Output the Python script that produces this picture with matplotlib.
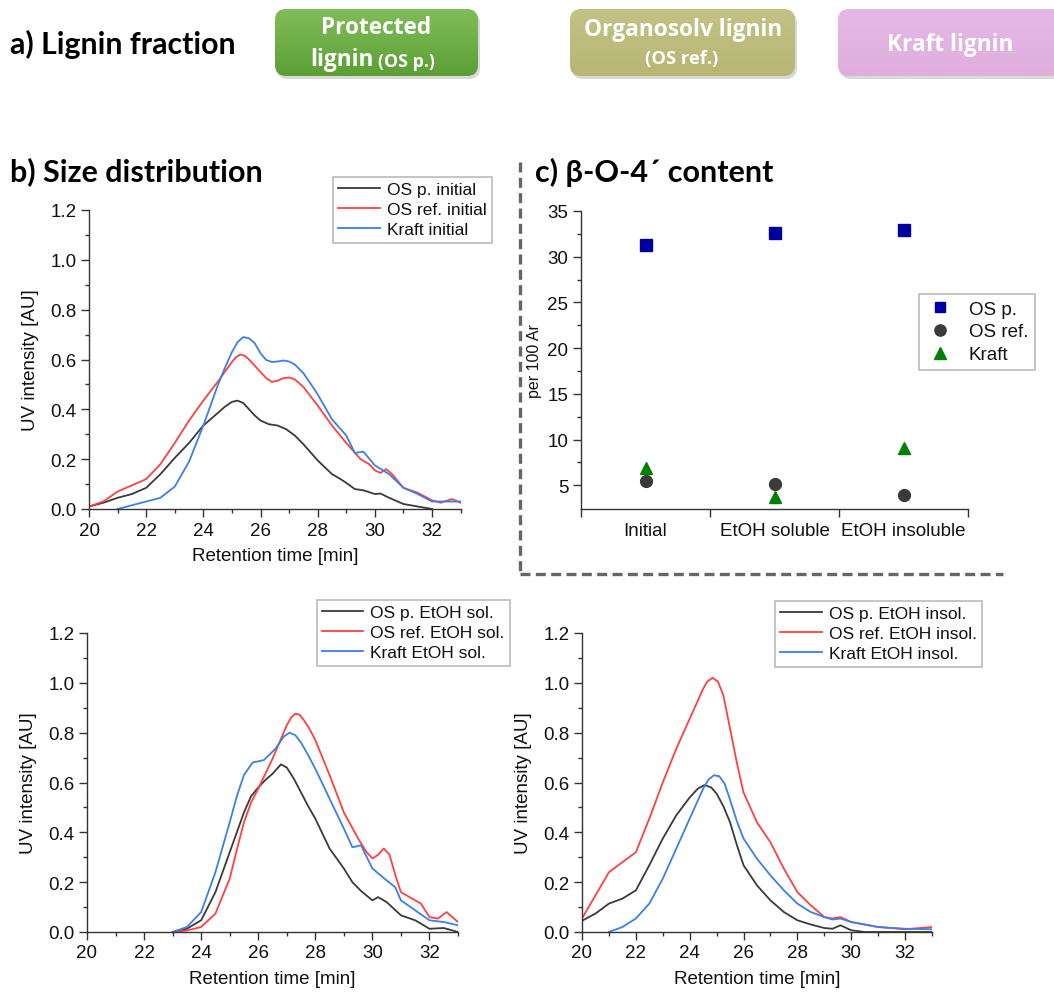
import matplotlib
matplotlib.use("Agg")
import numpy as np
import matplotlib.pyplot as plt
from matplotlib.patches import FancyBboxPatch
from matplotlib.lines import Line2D
from matplotlib.colors import LinearSegmentedColormap
from matplotlib.ticker import MultipleLocator, FixedLocator, NullFormatter, FixedFormatter, FormatStrFormatter

# ---------------- data ----------------
# b) initial fractions
t_osp_init = [20, 20.5, 21, 21.5, 22, 22.5, 23, 23.5, 24, 24.5, 24.75, 25, 25.2, 25.4, 25.6, 25.8, 26, 26.3, 26.6, 26.9, 27.2, 27.5, 28, 28.5, 28.8, 29, 29.3, 29.6, 30, 30.2, 30.5, 31, 31.5, 32]
v_osp_init = [0.01, 0.025, 0.045, 0.06, 0.085, 0.14, 0.205, 0.265, 0.335, 0.385, 0.41, 0.43, 0.435, 0.425, 0.40, 0.375, 0.355, 0.34, 0.335, 0.32, 0.295, 0.26, 0.195, 0.14, 0.12, 0.105, 0.08, 0.075, 0.06, 0.062, 0.045, 0.02, 0.01, 0.0]
t_osr_init = [20, 20.5, 21, 21.5, 22, 22.5, 23, 23.5, 24, 24.5, 25, 25.15, 25.3, 25.45, 25.6, 25.8, 26, 26.2, 26.4, 26.6, 26.8, 27, 27.2, 27.5, 27.8, 28, 28.5, 29, 29.5, 29.8, 30, 30.2, 30.4, 30.6, 31, 31.5, 32, 32.3, 32.7, 33]
v_osr_init = [0.01, 0.03, 0.07, 0.095, 0.12, 0.18, 0.265, 0.355, 0.435, 0.51, 0.59, 0.61, 0.62, 0.615, 0.60, 0.575, 0.55, 0.525, 0.51, 0.515, 0.525, 0.528, 0.52, 0.49, 0.445, 0.415, 0.335, 0.265, 0.20, 0.18, 0.155, 0.145, 0.16, 0.14, 0.085, 0.065, 0.035, 0.025, 0.04, 0.025]
t_kr_init = [21, 21.5, 22, 22.5, 23, 23.5, 24, 24.5, 24.75, 25, 25.2, 25.4, 25.6, 25.8, 26, 26.2, 26.4, 26.6, 26.8, 27, 27.2, 27.5, 27.8, 28, 28.5, 29, 29.3, 29.6, 30, 30.5, 31, 31.5, 32, 32.5, 33]
v_kr_init = [0.0, 0.015, 0.03, 0.045, 0.09, 0.19, 0.335, 0.495, 0.565, 0.63, 0.67, 0.69, 0.685, 0.665, 0.625, 0.598, 0.59, 0.592, 0.596, 0.592, 0.58, 0.545, 0.495, 0.46, 0.36, 0.295, 0.225, 0.23, 0.175, 0.14, 0.085, 0.06, 0.03, 0.03, 0.03]

# EtOH soluble fractions
t_osp_sol = [23, 23.5, 24, 24.5, 25, 25.25, 25.5, 25.75, 26, 26.25, 26.5, 26.8, 27, 27.25, 27.5, 27.75, 28, 28.5, 29, 29.3, 29.6, 30, 30.2, 30.5, 31, 31.5, 32, 32.5, 33]
v_osp_sol = [0.0, 0.013, 0.047, 0.16, 0.32, 0.40, 0.48, 0.545, 0.58, 0.61, 0.635, 0.673, 0.66, 0.615, 0.56, 0.505, 0.455, 0.335, 0.255, 0.20, 0.165, 0.127, 0.14, 0.12, 0.067, 0.047, 0.013, 0.016, 0.0]
t_osr_sol = [23, 23.5, 24, 24.5, 25, 25.25, 25.5, 25.75, 26, 26.5, 27, 27.15, 27.3, 27.45, 27.6, 27.8, 28, 28.5, 29, 29.5, 29.8, 30, 30.2, 30.4, 30.6, 30.8, 31, 31.5, 31.7, 32, 32.3, 32.6, 33]
v_osr_sol = [0.0, 0.006, 0.02, 0.074, 0.214, 0.33, 0.44, 0.52, 0.575, 0.695, 0.83, 0.86, 0.876, 0.872, 0.85, 0.815, 0.77, 0.63, 0.48, 0.375, 0.32, 0.295, 0.31, 0.335, 0.31, 0.23, 0.16, 0.127, 0.114, 0.06, 0.054, 0.08, 0.04]
t_kr_sol = [23, 23.5, 24, 24.5, 25, 25.25, 25.5, 25.8, 26.2, 26.6, 26.9, 27.1, 27.3, 27.5, 27.75, 28, 28.5, 29, 29.3, 29.6, 30, 30.5, 30.8, 31, 31.5, 32, 32.5, 33]
v_kr_sol = [0.0, 0.02, 0.08, 0.24, 0.44, 0.545, 0.63, 0.68, 0.69, 0.735, 0.785, 0.80, 0.79, 0.76, 0.71, 0.655, 0.535, 0.415, 0.34, 0.348, 0.255, 0.207, 0.18, 0.127, 0.087, 0.047, 0.04, 0.027]

# EtOH insoluble fractions
t_osp_ins = [20, 20.5, 21, 21.5, 22, 22.5, 23, 23.5, 24, 24.3, 24.55, 24.8, 25, 25.25, 25.5, 25.75, 26, 26.5, 27, 27.5, 28, 28.5, 29, 29.3, 29.6, 30, 30.5, 33]
v_osp_ins = [0.045, 0.074, 0.114, 0.134, 0.167, 0.268, 0.375, 0.468, 0.54, 0.575, 0.59, 0.58, 0.555, 0.505, 0.44, 0.35, 0.268, 0.187, 0.127, 0.08, 0.047, 0.03, 0.016, 0.013, 0.027, 0.007, 0.0, 0.0]
t_osr_ins = [20, 20.5, 21, 21.5, 22, 22.5, 23, 23.5, 24, 24.5, 24.65, 24.85, 25.05, 25.25, 25.5, 25.75, 26, 26.5, 27, 27.5, 28, 28.5, 29, 29.3, 29.6, 30, 31, 32, 33]
v_osr_ins = [0.054, 0.147, 0.24, 0.28, 0.32, 0.455, 0.60, 0.735, 0.856, 0.976, 1.005, 1.02, 1.005, 0.95, 0.816, 0.68, 0.56, 0.44, 0.36, 0.254, 0.16, 0.107, 0.06, 0.054, 0.06, 0.04, 0.02, 0.011, 0.02]
t_kr_ins = [21, 21.5, 22, 22.5, 23, 23.5, 24, 24.5, 24.7, 24.9, 25.1, 25.3, 25.5, 25.75, 26, 26.5, 27, 27.5, 28, 28.5, 29, 29.3, 29.6, 30, 31, 32, 33]
v_kr_ins = [0.0, 0.02, 0.054, 0.114, 0.214, 0.334, 0.455, 0.575, 0.612, 0.629, 0.625, 0.595, 0.53, 0.445, 0.375, 0.294, 0.227, 0.167, 0.114, 0.08, 0.06, 0.05, 0.054, 0.04, 0.02, 0.013, 0.011]

# c) beta-O-4' content
categories = ["Initial", "EtOH soluble", "EtOH insoluble"]
b04_osp = [31.3, 32.6, 32.9]
b04_osr = [5.5, 5.1, 3.9]
b04_kraft = [6.9, 3.7, 9.1]

labels_init = ["OS p. initial", "OS ref. initial", "Kraft initial"]
labels_sol = ["OS p. EtOH sol.", "OS ref. EtOH sol.", "Kraft EtOH sol."]
labels_ins = ["OS p. EtOH insol.", "OS ref. EtOH insol.", "Kraft EtOH insol."]
scatter_labels = ["OS p.", "OS ref.", "Kraft"]

# ---------------- style ----------------
FONT = "Liberation Sans"
TFONT = "Lato"
HFONT = "Open Sans"
C_GRAY = "#3a3a3a"
C_RED = "#ff4040"
C_BLUE = "#3c7fe6"
SPINE = "#333333"

W, H = 1054, 995
fig = plt.figure(figsize=(W / 100, H / 100), dpi=100)
fig.patch.set_facecolor("white")


def fbox(x0, y0, x1, y1):
    """pixel box (top-left origin) -> figure fraction rect"""
    return [x0 / W, 1 - y1 / H, (x1 - x0) / W, (y1 - y0) / H]


def style_axes(ax):
    for s in ["top", "right"]:
        ax.spines[s].set_visible(False)
    for s in ["left", "bottom"]:
        ax.spines[s].set_color(SPINE)
        ax.spines[s].set_linewidth(1.0)
    ax.tick_params(which="major", direction="out", length=5.5, width=1.0, color=SPINE,
                   labelsize=13.5, labelcolor="#111111")
    ax.tick_params(which="minor", direction="out", length=3, width=1.0, color=SPINE)
    for lbl in ax.get_xticklabels() + ax.get_yticklabels():
        lbl.set_fontfamily(FONT)


def chrom_axes(rect, series, labels, legend_box):
    ax = fig.add_axes(rect)
    colors = [C_GRAY, C_RED, C_BLUE]
    for (t, v), c, lab in zip(series, colors, labels):
        ax.plot(t, v, color=c, lw=1.3, label=lab, solid_joinstyle="round")
    ax.set_xlim(20, 33)
    ax.set_ylim(0, 1.2)
    ax.xaxis.set_major_locator(MultipleLocator(2))
    ax.xaxis.set_minor_locator(MultipleLocator(1))
    ax.yaxis.set_major_locator(MultipleLocator(0.2))
    ax.yaxis.set_minor_locator(MultipleLocator(0.1))
    ax.yaxis.set_major_formatter(FormatStrFormatter("%.1f"))
    ax.set_xlabel("Retention time [min]", fontfamily=FONT, fontsize=13.5, color="#111111", labelpad=6)
    ax.set_ylabel("UV intensity [AU]", fontfamily=FONT, fontsize=13.5, color="#111111", labelpad=8)
    style_axes(ax)
    ax.patch.set_alpha(0)
    leg = ax.legend(loc="upper right", bbox_to_anchor=(legend_box[0] / W, 1 - legend_box[1] / H),
                    bbox_transform=fig.transFigure, borderaxespad=0,
                    prop={"family": FONT, "size": 12.5}, frameon=True, fancybox=False,
                    handlelength=2.4, handletextpad=0.4, labelspacing=0.28, borderpad=0.3)
    leg.get_frame().set_edgecolor("#aaaaaa")
    leg.get_frame().set_linewidth(1.2)
    for txt in leg.get_texts():
        txt.set_color("#111111")
    return ax


# ---------------- a) header ----------------
fig.text(10 / W, 1 - 44 / H, "a) Lignin fraction", fontfamily=TFONT, fontweight="bold",
         fontsize=21.8, va="center", ha="left", color="black")

hdr_ax = fig.add_axes([0, 0, 1, 1], zorder=-1)
hdr_ax.set_xlim(0, W)
hdr_ax.set_ylim(H, 0)
hdr_ax.axis("off")


def header_box(x0, x1, color_top, color_bot):
    y0, y1 = 10, 77
    sh = FancyBboxPatch((x0 + 2, y0 + 3), x1 - x0, y1 - y0,
                        boxstyle="round,pad=0,rounding_size=11",
                        facecolor="#c8c8c8", edgecolor="none", alpha=0.7, zorder=1)
    hdr_ax.add_patch(sh)
    p = FancyBboxPatch((x0, y0), x1 - x0, y1 - y0,
                       boxstyle="round,pad=0,rounding_size=11",
                       facecolor="none", edgecolor="none", zorder=2)
    hdr_ax.add_patch(p)
    cmap = LinearSegmentedColormap.from_list("g", [color_top, color_bot])
    grad = np.linspace(0, 1, 64).reshape(-1, 1)
    im = hdr_ax.imshow(grad, cmap=cmap, extent=(x0, x1, y1, y0), aspect="auto",
                       interpolation="bilinear", zorder=2)
    im.set_clip_path(p)


header_box(275, 478, "#80bd58", "#5c9f36")
header_box(570, 795, "#c3c285", "#b8b674")
header_box(838, 1125, "#e6b8e5", "#dfaedd")

fig.text(376 / W, 1 - 28 / H, "Protected", fontfamily=HFONT, fontweight="bold",
         fontsize=16.3, color="white", ha="center", va="center", zorder=5)
fig.text(374 / W, 1 - 60 / H, "lignin", fontfamily=HFONT, fontweight="bold",
         fontsize=16.3, color="white", ha="right", va="center", zorder=5)
fig.text(378 / W, 1 - 62 / H, "(OS p.)", fontfamily=HFONT, fontweight="bold",
         fontsize=12.8, color="white", ha="left", va="center", zorder=5)
fig.text(683 / W, 1 - 30 / H, "Organosolv lignin", fontfamily=HFONT, fontweight="bold",
         fontsize=16.3, color="white", ha="center", va="center", zorder=5)
fig.text(682 / W, 1 - 59 / H, "(OS ref.)", fontfamily=HFONT, fontweight="bold",
         fontsize=13.2, color="white", ha="center", va="center", zorder=5)
fig.text(950 / W, 1 - 45 / H, "Kraft lignin", fontfamily=HFONT, fontweight="bold",
         fontsize=16.3, color="white", ha="center", va="center", zorder=5)

# ---------------- titles ----------------
fig.text(10 / W, 1 - 172 / H, "b) Size distribution", fontfamily=TFONT, fontweight="bold",
         fontsize=22, va="center", ha="left", color="black")
fig.text(535 / W, 1 - 172 / H, "c) β-O-4´ content", fontfamily=[TFONT, "DejaVu Sans"], fontweight="bold",
         fontsize=22, va="center", ha="left", color="black")

# dashed separator
fig.add_artist(Line2D([520 / W, 520 / W], [1 - 163 / H, 1 - 575 / H], transform=fig.transFigure,
                      color="#666666", lw=2.4, dashes=(3, 1.6)))
fig.add_artist(Line2D([520 / W, 1003 / W], [1 - 575 / H, 1 - 575 / H], transform=fig.transFigure,
                      color="#666666", lw=2.4, dashes=(3, 1.6)))

# ---------------- b) chromatograms ----------------
chrom_axes(fbox(89, 211, 460.6, 510),
           [(t_osp_init, v_osp_init), (t_osr_init, v_osr_init), (t_kr_init, v_kr_init)],
           labels_init, (492, 178))
chrom_axes(fbox(87, 634, 458, 933),
           [(t_osp_sol, v_osp_sol), (t_osr_sol, v_osr_sol), (t_kr_sol, v_kr_sol)],
           labels_sol, (510, 601))
chrom_axes(fbox(582, 634, 932, 933),
           [(t_osp_ins, v_osp_ins), (t_osr_ins, v_osr_ins), (t_kr_ins, v_kr_ins)],
           labels_ins, (982, 602))

# ---------------- c) beta-O-4 scatter ----------------
axc = fig.add_axes(fbox(581, 212, 968, 510))
xpos = list(range(1, len(categories) + 1))
axc.plot(xpos, b04_osp, ls="none", marker="s", ms=8, color="#0000a0", label=scatter_labels[0])
axc.plot(xpos, b04_osr, ls="none", marker="o", ms=8.5, color="#3a3a3a", label=scatter_labels[1])
axc.plot(xpos, b04_kraft, ls="none", marker="^", ms=9, color="#008000", label=scatter_labels[2])
axc.set_xlim(0.5, 3.5)
axc.set_ylim(2.4, 35)
axc.xaxis.set_major_locator(FixedLocator([0.5, 1.5, 2.5, 3.5]))
axc.xaxis.set_major_formatter(NullFormatter())
axc.xaxis.set_minor_locator(FixedLocator(xpos))
axc.xaxis.set_minor_formatter(FixedFormatter(categories))
axc.yaxis.set_major_locator(FixedLocator([5, 10, 15, 20, 25, 30, 35]))
axc.yaxis.set_minor_locator(FixedLocator([7.5, 12.5, 17.5, 22.5, 27.5, 32.5]))
axc.set_ylabel("per 100 Ar", fontfamily=FONT, fontsize=11.5, color="#111111", labelpad=4)
style_axes(axc)
axc.tick_params(axis="x", which="minor", length=0, labelsize=13.5, pad=9)
axc.tick_params(axis="y", which="minor", length=3)
for lbl in axc.xaxis.get_minorticklabels():
    lbl.set_fontfamily(FONT)
    lbl.set_color("#111111")
axc.patch.set_alpha(0)
legc = axc.legend(loc="upper left", bbox_to_anchor=(919 / W, 1 - 295 / H), bbox_transform=fig.transFigure,
                  borderaxespad=0, prop={"family": FONT, "size": 13.5}, frameon=True, fancybox=False,
                  handlelength=1.5, handletextpad=0.8, labelspacing=0.3, borderpad=0.35, markerscale=0.95)
legc.get_frame().set_edgecolor("#aaaaaa")
legc.get_frame().set_linewidth(1.2)
for txt in legc.get_texts():
    txt.set_color("#111111")

fig.savefig("out.png", dpi=100)
